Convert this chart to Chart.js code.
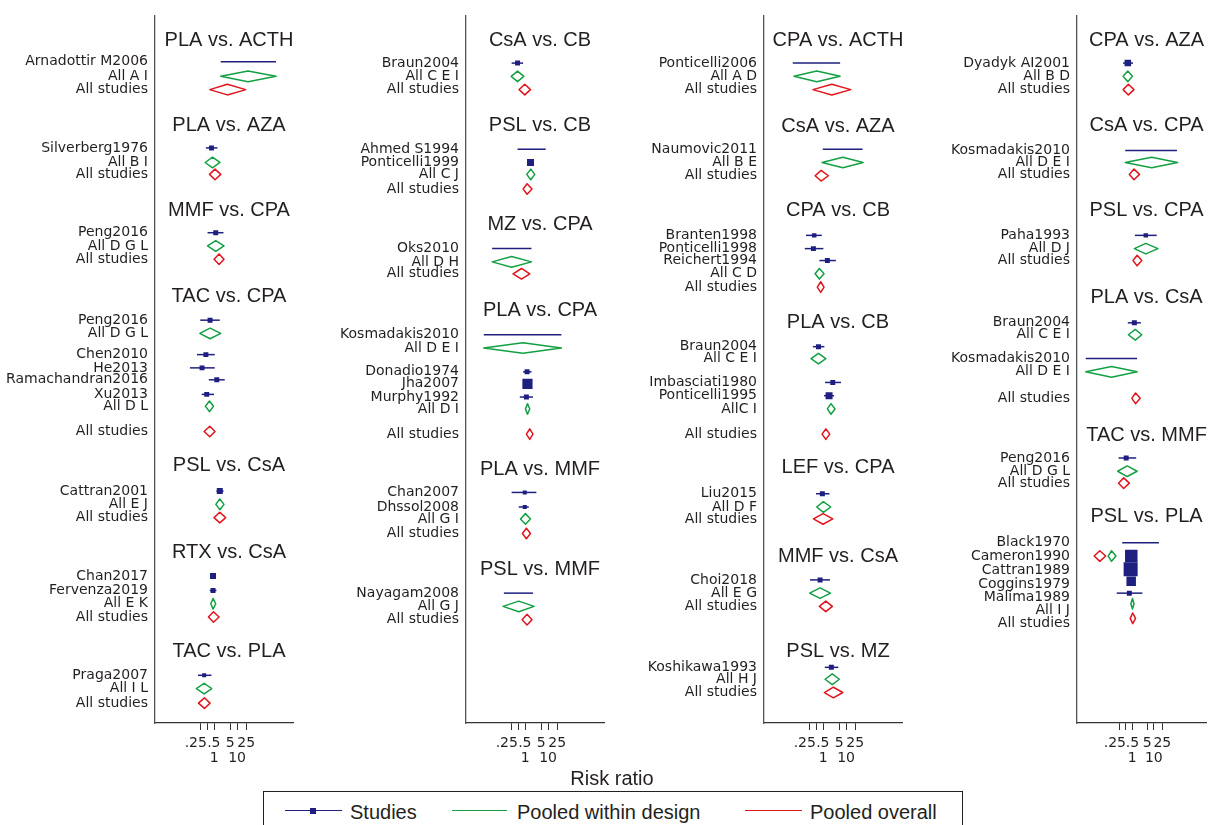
<!DOCTYPE html>
<html>
<head>
<meta charset="utf-8">
<script src="https://cdn.jsdelivr.net/npm/chart.js@4.4.1/dist/chart.umd.min.js"></script>
<style>
  html, body { margin: 0; padding: 0; background: #fff; overflow: hidden; }
  #page { position: relative; width: 1216px; height: 825px; overflow: hidden; }
  #page canvas { position: absolute; top: 0; }
  .txt { position: absolute; font: 20px/20px "Liberation Sans", Arial, sans-serif; color: #231f20; white-space: nowrap; }
  .ln { position: absolute; height: 0; border-top: 1.5px solid; }
  #legend { position: absolute; left: 263px; top: 791px; width: 698px; height: 60px; border: 1px solid #231f20; }
</style>
</head>
<body>
<div id="page">
  <canvas id="c1" width="310" height="773" style="left:0px"></canvas>
  <canvas id="c2" width="306" height="773" style="left:310px"></canvas>
  <canvas id="c3" width="300" height="773" style="left:616px"></canvas>
  <canvas id="c4" width="300" height="773" style="left:916px"></canvas>

  <div class="txt" style="left:612px;top:768px;transform:translateX(-50%)">Risk ratio</div>
  <div id="legend"></div>
  <div class="ln" style="left:285px;top:810px;width:57px;border-color:#1f1f80"></div>
  <div style="position:absolute;left:310px;top:808px;width:6px;height:6px;background:#1f1f80"></div>
  <div class="txt" style="left:350px;top:802px">Studies</div>
  <div class="ln" style="left:452px;top:810px;width:55px;border-color:#13a043"></div>
  <div class="txt" style="left:517px;top:802px">Pooled within design</div>
  <div class="ln" style="left:745px;top:810px;width:57px;border-color:#e2141c"></div>
  <div class="txt" style="left:810px;top:802px">Pooled overall</div>
</div>

<script>
// x axis (risk ratio, log)
const xTicks = [0.25, 0.5, 1, 5, 10, 25];
const xTickLabels = ['.25', '.5', '1', '5', '10', '25'];

// kinds: s = study, w = pooled within design, o = pooled overall
// rows are in line units from the top of the plot

// ---- panel 1
const p1Titles = ['PLA vs. ACTH', 'PLA vs. AZA', 'MMF vs. CPA', 'TAC vs. CPA', 'PSL vs. CsA', 'RTX vs. CsA', 'TAC vs. PLA'];
const p1TitleRow = [1.9, 8.3, 14.7, 21.2, 34.0, 40.5, 48.0];
const p1Labels = ['Arnadottir M2006', 'All A I', 'All studies', 'Silverberg1976', 'All B I', 'All studies',
  'Peng2016', 'All D G L', 'All studies', 'Peng2016', 'All D G L', 'Chen2010', 'He2013', 'Ramachandran2016',
  'Xu2013', 'All D L', 'All studies', 'Cattran2001', 'All E J', 'All studies', 'Chan2017', 'Fervenza2019',
  'All E K', 'All studies', 'Praga2007', 'All I L', 'All studies'];
const p1Row = [3.5, 4.6, 5.6, 10.0, 11.1, 12.0, 16.4, 17.4, 18.4, 23.0, 24.0, 25.6, 26.6, 27.5, 28.6, 29.5, 31.4,
  35.9, 36.9, 37.9, 42.3, 43.4, 44.4, 45.4, 49.8, 50.8, 51.9];
const p1Kind = ['s','w','o', 's','w','o', 's','w','o', 's','w','s','s','s','s','w','o', 's','w','o', 's','s','w','o', 's','w','o'];
const p1Est = [31, 30, 3.8, 0.77, 0.85, 1.1, 1.18, 1.18, 1.65, 0.67, 0.67, 0.44, 0.3, 1.31, 0.48, 0.63, 0.65,
  1.77, 1.77, 1.77, 0.9, 0.9, 0.9, 0.94, 0.37, 0.37, 0.38];
const p1Lo = [1.95, 1.95, 0.65, 0.44, 0.41, 0.63, 0.52, 0.52, 1.0, 0.25, 0.24, 0.18, 0.09, 0.59, 0.29, 0.42, 0.37,
  1.27, 1.19, 1.0, 0.75, 0.65, 0.72, 0.57, 0.2, 0.17, 0.21];
const p1Hi = [490, 490, 23.8, 1.4, 1.8, 1.95, 2.56, 2.7, 2.7, 1.77, 1.95, 1.07, 1.07, 2.9, 1.0, 0.94, 1.1,
  2.56, 2.7, 3.2, 1.1, 1.27, 1.18, 1.65, 0.77, 0.79, 0.67];
const p1Wt = [0, 0, 0, 3.1, 0, 0, 3.1, 0, 0, 3.1, 0, 3.1, 3.1, 3.1, 3.1, 0, 0, 4.5, 0, 0, 4.5, 3.1, 0, 0, 2, 0, 0];

// ---- panel 2
const p2Titles = ['CsA vs. CB', 'PSL vs. CB', 'MZ vs. CPA', 'PLA vs. CPA', 'PLA vs. MMF', 'PSL vs. MMF'];
const p2TitleRow = [1.9, 8.3, 15.8, 22.3, 34.3, 41.8];
const p2Labels = ['Braun2004', 'All C E I', 'All studies', 'Ahmed S1994', 'Ponticelli1999', 'All C J', 'All studies',
  'Oks2010', 'All D H', 'All studies', 'Kosmadakis2010', 'All D E I', 'Donadio1974', 'Jha2007', 'Murphy1992',
  'All D I', 'All studies', 'Chan2007', 'Dhssol2008', 'All G I', 'All studies', 'Nayagam2008', 'All G J', 'All studies'];
const p2Row = [3.6, 4.6, 5.6, 10.1, 11.1, 12.0, 13.1, 17.6, 18.6, 19.5, 24.1, 25.1, 26.9, 27.8, 28.8, 29.7, 31.6,
  36.0, 37.1, 38.0, 39.1, 43.6, 44.6, 45.6];
const p2Kind = ['s','w','o', 's','s','w','o', 's','w','o', 's','w','s','s','s','w','o', 's','s','w','o', 's','w','o'];
const p2Est = [0.47, 0.47, 0.97, 1.9, 1.72, 1.77, 1.22, 0.26, 0.26, 0.7, 0.78, 0.8, 1.22, 1.27, 1.14, 1.27, 1.6,
  0.97, 0.97, 1.04, 1.14, 0.52, 0.53, 1.22];
const p2Lo = [0.26, 0.25, 0.55, 0.47, 1.45, 1.18, 0.82, 0.037, 0.037, 0.3, 0.016, 0.016, 0.82, 1.15, 0.59, 1.04, 1.14,
  0.26, 0.53, 0.63, 0.77, 0.12, 0.11, 0.74];
const p2Hi = [0.82, 0.88, 1.72, 7.9, 2.05, 2.64, 2.0, 1.9, 1.9, 1.6, 38, 38, 1.9, 1.4, 2.2, 1.6, 2.2,
  3.1, 1.45, 1.72, 1.72, 2.2, 2.46, 2.0];
const p2Wt = [3.1, 0, 0, 0, 6.1, 0, 0, 0, 0, 0, 0, 0, 3.1, 13, 3.1, 0, 0, 2, 2, 0, 0, 0, 0, 0];

// ---- panel 3
const p3Titles = ['CPA vs. ACTH', 'CsA vs. AZA', 'CPA vs. CB', 'PLA vs. CB', 'LEF vs. CPA', 'MMF vs. CsA', 'PSL vs. MZ'];
const p3TitleRow = [1.9, 8.4, 14.7, 23.2, 34.1, 40.8, 48.0];
const p3Labels = ['Ponticelli2006', 'All A D', 'All studies', 'Naumovic2011', 'All B E', 'All studies',
  'Branten1998', 'Ponticelli1998', 'Reichert1994', 'All C D', 'All studies', 'Braun2004', 'All C E I',
  'Imbasciati1980', 'Ponticelli1995', 'AllC I', 'All studies', 'Liu2015', 'All D F', 'All studies',
  'Choi2018', 'All E G', 'All studies', 'Koshikawa1993', 'All H J', 'All studies'];
const p3Row = [3.6, 4.6, 5.6, 10.1, 11.1, 12.1, 16.6, 17.6, 18.5, 19.5, 20.5, 25.0, 25.9, 27.7, 28.7, 29.7, 31.6,
  36.1, 37.1, 38.0, 42.6, 43.6, 44.6, 49.2, 50.1, 51.1];
const p3Kind = ['s','w','o', 's','w','o', 's','s','s','w','o', 's','w','s','s','w','o', 's','w','o', 's','w','o', 's','w','o'];
const p3Est = [0.51, 0.53, 2.39, 7.2, 7.2, 0.82, 0.41, 0.38, 1.54, 0.69, 0.79, 0.63, 0.63, 2.64, 1.82, 2.2, 1.32,
  0.93, 1.03, 1.0, 0.74, 0.74, 1.31, 2.29, 2.5, 2.8];
const p3Lo = [0.048, 0.054, 0.36, 0.97, 0.9, 0.45, 0.18, 0.16, 0.69, 0.45, 0.56, 0.36, 0.3, 1.22, 1.1, 1.54, 0.9,
  0.49, 0.53, 0.38, 0.27, 0.26, 0.69, 1.18, 1.22, 1.14];
const p3Hi = [5.5, 5.5, 16, 52, 55, 1.7, 0.88, 1.03, 3.6, 1.1, 1.1, 1.14, 1.32, 6, 3, 3.3, 1.95,
  1.88, 2.16, 2.64, 2.0, 2.1, 2.53, 4.6, 5.1, 7.2];
const p3Wt = [0, 0, 0, 0, 0, 0, 2.5, 3.1, 3.1, 0, 0, 3.1, 0, 3.1, 6.1, 0, 0, 3.1, 0, 0, 3.1, 0, 0, 3.1, 0, 0];

// ---- panel 4 (marks of the last block sit slightly above their labels)
const p4Titles = ['CPA vs. AZA', 'CsA vs. CPA', 'PSL vs. CPA', 'PLA vs. CsA', 'TAC vs. MMF', 'PSL vs. PLA'];
const p4TitleRow = [1.9, 8.3, 14.7, 21.3, 31.7, 37.8];
const p4Labels = ['Dyadyk AI2001', 'All B D', 'All studies', 'Kosmadakis2010', 'All D E I', 'All studies',
  'Paha1993', 'All D J', 'All studies', 'Braun2004', 'All C E I', 'Kosmadakis2010', 'All D E I', 'All studies',
  'Peng2016', 'All D G L', 'All studies', 'Black1970', 'Cameron1990', 'Cattran1989', 'Coggins1979',
  'Malima1989', 'All I J', 'All studies'];
const p4LabelRow = [3.6, 4.6, 5.6, 10.2, 11.1, 12.0, 16.6, 17.6, 18.5, 23.2, 24.1, 25.9, 26.9, 28.9,
  33.4, 34.4, 35.3, 39.8, 40.8, 41.9, 42.9, 43.9, 44.9, 45.9];
const p4Row = [3.6, 4.6, 5.6, 10.2, 11.1, 12.0, 16.6, 17.6, 18.5, 23.2, 24.1, 25.9, 26.9, 28.9,
  33.4, 34.4, 35.3, 39.8, 40.8, 40.8, 40.8, 41.8, 42.7, 43.6, 44.4, 45.5];
const p4Kind = ['s','w','o', 's','w','o', 's','w','o', 's','w','s','w','o', 's','w','o', 's','o','w','s','s','s','s','w','o'];
const p4Est = [0.62, 0.62, 0.66, 7.5, 8.0, 1.2, 4.26, 4.26, 1.68, 1.25, 1.38, 0.107, 0.109, 1.42,
  0.52, 0.58, 0.4, 2.4, 0.031, 0.109, 0.9, 0.84, 0.89, 0.73, 1.02, 1.05];
const p4Lo = [0.375, 0.375, 0.375, 0.47, 0.47, 0.73, 1.32, 1.25, 1.08, 0.62, 0.66, 0.0069, 0.0069, 0.95,
  0.23, 0.21, 0.23, 0.34, 0.017, 0.076, 0.85, 0.8, 0.85, 0.19, 0.86, 0.8];
const p4Hi = [1.08, 1.02, 1.2, 119, 127, 2.18, 13.7, 15.6, 2.77, 2.5, 2.77, 1.68, 1.68, 2.34,
  1.52, 1.68, 0.73, 17.3, 0.058, 0.174, 0.95, 0.9, 0.95, 2.95, 1.2, 1.42];
const p4Wt = [5.3, 0, 0, 0, 0, 0, 2.5, 0, 0, 3.1, 0, 0, 0, 0, 3.1, 0, 0, 0, 0, 0, 19.5, 24.5, 11.3, 3.1, 0, 0];

const navy = '#1f1f80', green = '#13a043', red = '#e2141c', ink = '#231f20';
Chart.defaults.font.family = 'DejaVu Sans';

function pick(kind, rows, est, lo, hi, wt, k) {
  const out = [];
  kind.forEach((kd, i) => {
    if (kd === k) out.push({ x: est[i], y: rows[i], lo: lo[i], hi: hi[i], w: wt[i] });
  });
  return out;
}

// draws CI lines, diamonds and the sub-titles from the chart's own scales
function forestPlugin(titles, titleRows) {
  return {
    id: 'forest',
    beforeDatasetsDraw(chart) {
      const { ctx, scales: { x, y } } = chart;
      ctx.save();
      ctx.lineWidth = 1.5;
      ctx.lineJoin = 'round';
      chart.data.datasets.forEach(ds => {
        ctx.strokeStyle = ds.borderColor;
        ds.data.forEach(p => {
          const py = y.getPixelForValue(p.y);
          const x0 = x.getPixelForValue(p.lo), x1 = x.getPixelForValue(p.hi), xm = x.getPixelForValue(p.x);
          ctx.beginPath();
          if (ds.diamond) {
            ctx.moveTo(x0, py); ctx.lineTo(xm, py - 5.3); ctx.lineTo(x1, py); ctx.lineTo(xm, py + 5.3);
            ctx.closePath();
          } else {
            ctx.moveTo(x0, py); ctx.lineTo(x1, py);
          }
          ctx.stroke();
        });
      });
      ctx.restore();
    },
    afterDraw(chart) {
      const { ctx, chartArea: a, scales: { y } } = chart;
      ctx.save();
      ctx.font = '20px "Liberation Sans"';
      ctx.fillStyle = ink;
      ctx.textAlign = 'center';
      ctx.textBaseline = 'middle';
      titles.forEach((t, i) => ctx.fillText(t, (a.left + a.right) / 2 + 5, y.getPixelForValue(titleRows[i])));
      ctx.restore();
    }
  };
}

function panel(id, left, axisX, titles, titleRows, labels, labelRows, kind, rows, est, lo, hi, wt) {
  const cv = document.getElementById(id);
  const plotRight = axisX + 138;
  new Chart(cv, {
    type: 'scatter',
    data: {
      datasets: [
        { data: pick(kind, rows, est, lo, hi, wt, 'w'), borderColor: green, diamond: true, pointRadius: 0 },
        { data: pick(kind, rows, est, lo, hi, wt, 'o'), borderColor: red, diamond: true, pointRadius: 0 },
        {
          data: pick(kind, rows, est, lo, hi, wt, 's'), borderColor: navy, backgroundColor: navy,
          pointStyle: 'rect', borderWidth: 0, pointBorderWidth: 0,
          pointRadius: c => (c.raw ? 2 * Math.sqrt(c.raw.w) : 0)
        }
      ]
    },
    options: {
      responsive: false, animation: false, events: [],
      layout: { padding: { top: 13, right: cv.width - (plotRight - left), bottom: 0, left: 0 } },
      plugins: { legend: { display: false }, tooltip: { enabled: false } },
      scales: {
        x: {
          type: 'logarithmic', position: 'bottom', min: 0.0027, max: 2700, bounds: 'data',
          afterBuildTicks: s => { s.ticks = xTicks.map(v => ({ value: v })); },
          afterFit: s => { s.height = 50; },
          ticks: {
            autoSkip: false, maxRotation: 0, minRotation: 0, padding: 6, color: ink,
            font: { size: 14, lineHeight: 1.08 },
            callback: (v, i) => {
              const t = xTickLabels[i];
              if (i === 0) return t + '  ';
              if (i === 1) return '   ' + t;
              return (i === 2 || i === 4) ? ['', t] : t;
            }
          },
          grid: { display: true, drawOnChartArea: false, drawTicks: true, tickLength: 7, color: '#333', lineWidth: 1 },
          border: { display: true, color: '#333', width: 1.3 }
        },
        y: {
          type: 'linear', position: 'left', reverse: true, min: 0, max: 53.4, bounds: 'data',
          afterBuildTicks: s => { s.ticks = labelRows.map(v => ({ value: v })); },
          afterFit: s => { s.width = axisX - left; },
          ticks: { autoSkip: false, padding: 7, color: ink, font: { size: 14 }, callback: (v, i) => labels[i] },
          grid: { display: false, drawTicks: false, tickLength: 0 },
          border: { display: true, color: '#555', width: 1.3 }
        }
      }
    },
    plugins: [forestPlugin(titles, titleRows)]
  });
}

panel('c1', 0, 155, p1Titles, p1TitleRow, p1Labels, p1Row, p1Kind, p1Row, p1Est, p1Lo, p1Hi, p1Wt);
panel('c2', 310, 466, p2Titles, p2TitleRow, p2Labels, p2Row, p2Kind, p2Row, p2Est, p2Lo, p2Hi, p2Wt);
panel('c3', 616, 764, p3Titles, p3TitleRow, p3Labels, p3Row, p3Kind, p3Row, p3Est, p3Lo, p3Hi, p3Wt);
panel('c4', 916, 1077, p4Titles, p4TitleRow, p4Labels, p4LabelRow, p4Kind, p4Row, p4Est, p4Lo, p4Hi, p4Wt);
</script>
</body>
</html>
